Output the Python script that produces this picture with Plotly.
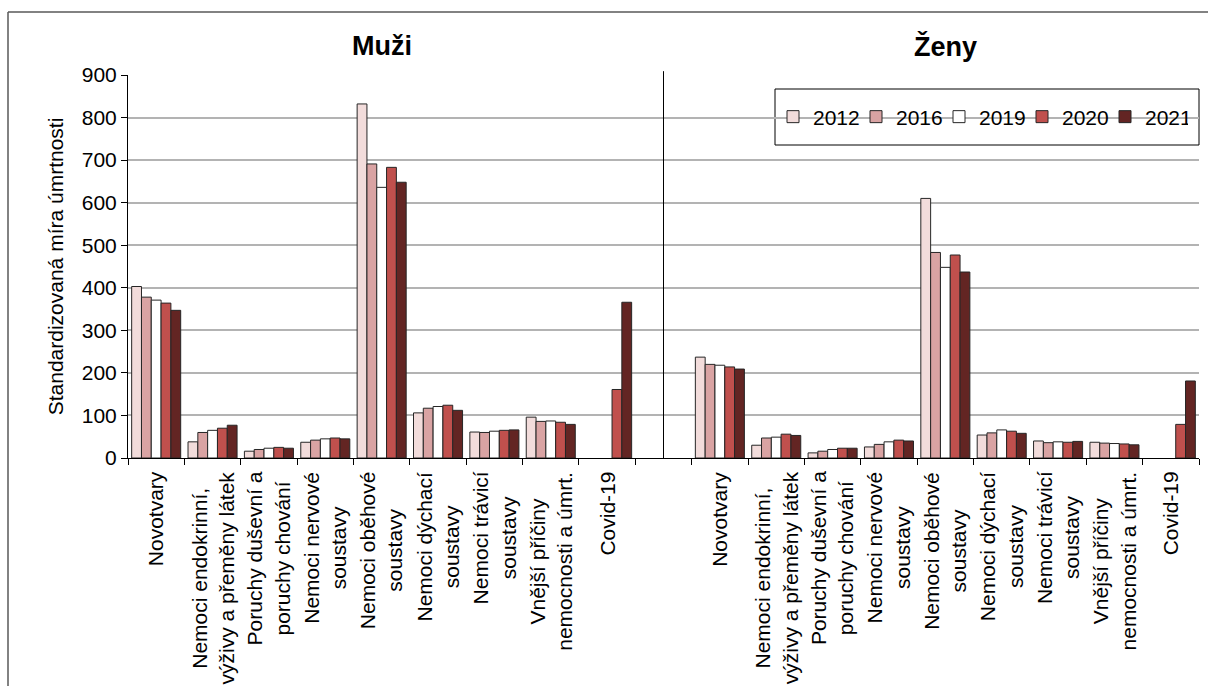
import plotly.graph_objects as go

# Cause-of-death groups (same list for men and women)
causes = [
    "Novotvary",
    "Nemoci endokrinní,<br>výživy a přeměny látek",
    "Poruchy duševní a<br>poruchy chování",
    "Nemoci nervové<br>soustavy",
    "Nemoci oběhové<br>soustavy",
    "Nemoci dýchací<br>soustavy",
    "Nemoci trávicí<br>soustavy",
    "Vnější příčiny<br>nemocnosti a úmrt.",
    "Covid-19",
]

years = ["2012", "2016", "2019", "2020", "2021"]

# Standardised mortality rates – men
men = {
    "2012": [403, 38, 16, 37, 832, 106, 61, 96, None],
    "2016": [378, 60, 20, 42, 691, 117, 60, 86, None],
    "2019": [371, 65, 23, 45, 636, 121, 63, 87, None],
    "2020": [364, 70, 25, 47, 683, 124, 65, 84, 161],
    "2021": [347, 77, 23, 45, 648, 112, 66, 79, 366],
}

# Standardised mortality rates – women
women = {
    "2012": [237, 30, 12, 26, 610, 54, 40, 37, None],
    "2016": [220, 47, 16, 32, 483, 59, 36, 35, None],
    "2019": [218, 49, 20, 38, 448, 66, 38, 34, None],
    "2020": [214, 56, 23, 42, 477, 63, 37, 33, 79],
    "2021": [209, 53, 23, 40, 437, 58, 39, 31, 181],
}

colors = {
    "2012": "#F2DCDB",
    "2016": "#D9A3A3",
    "2019": "#FFFFFF",
    "2020": "#C0504D",
    "2021": "#632523",
}

# Men occupy positions 0-8, an empty slot at 9, women at 10-18
n = len(causes)
x_pos = list(range(2 * n + 1))
labels = causes + [""] + causes

fig = go.Figure()
for yr in years:
    vals = men[yr] + [None] + women[yr]
    fig.add_trace(go.Bar(
        x=x_pos, y=vals, name=yr,
        marker=dict(color=colors[yr], line=dict(color="#262626", width=1)),
    ))

FONT = "Liberation Sans, Arial, sans-serif"

# Category labels, rotated, lines centred
annotations = []
for i, lab in enumerate(labels):
    if not lab:
        continue
    annotations.append(dict(
        x=i, xref="x", y=-0.03, yref="paper",
        text=lab, textangle=-90, showarrow=False,
        xanchor="center", yanchor="top", align="center",
        font=dict(family=FONT, size=21, color="#000000"),
    ))

# Panel titles
for txt, xc in (("Muži", 4), ("Ženy", 14)):
    annotations.append(dict(
        x=xc, xref="x", y=1.075, yref="paper",
        text=f"<b>{txt}</b>", showarrow=False,
        xanchor="center", yanchor="middle",
        font=dict(family=FONT, size=27, color="#000000"),
    ))

L, R, T, B = 128, 9, 75, 228
W, H = 1208, 686
pw, ph = W - L - R, H - T - B


def px(xp):
    return (xp - L) / pw


def py(yp):
    return (H - B - yp) / ph


shapes = [
    # separator between the two panels
    dict(type="line", xref="x", yref="paper", x0=n, x1=n, y0=0, y1=1.01,
         line=dict(color="#000000", width=1)),
    # outer chart frame
    dict(type="line", xref="paper", yref="paper", x0=px(8), x1=px(8), y0=py(12), y1=py(H + 5),
         line=dict(color="#595959", width=1.5)),
    dict(type="line", xref="paper", yref="paper", x0=px(8), x1=px(W + 5), y0=py(12), y1=py(12),
         line=dict(color="#595959", width=1.5)),
    # legend frame
    dict(type="rect", xref="paper", yref="paper", x0=px(775), x1=px(1199), y0=py(145), y1=py(89),
         line=dict(color="#000000", width=1), fillcolor="white", layer="below"),
]

fig.update_layout(
    width=W, height=H,
    margin=dict(l=L, r=R, t=T, b=B, autoexpand=False),
    paper_bgcolor="white", plot_bgcolor="rgba(0,0,0,0)",
    barmode="group", bargap=0.13, bargroupgap=0,
    font=dict(family=FONT, size=21, color="#000000"),
    showlegend=True,
    legend=dict(
        orientation="h", x=px(1188), y=py(117), xanchor="right", yanchor="middle",
        borderwidth=0, bgcolor="rgba(0,0,0,0)",
        font=dict(family=FONT, size=21, color="#000000"),
        entrywidth=38, entrywidthmode="pixels",
        itemwidth=30, traceorder="normal",
    ),
    xaxis=dict(
        range=[-0.5, 2 * n + 0.5],
        tickmode="array", tickvals=[i - 0.5 for i in range(2 * n + 2)],
        showticklabels=False, ticks="outside", ticklen=6, tickcolor="#000000",
        showline=True, linecolor="#000000", linewidth=1,
        showgrid=False, zeroline=False, fixedrange=True,
    ),
    yaxis=dict(
        range=[0, 900], tickmode="linear", tick0=0, dtick=100,
        ticks="outside", ticklen=6, tickcolor="#000000",
        showline=True, linecolor="#000000", linewidth=1,
        showgrid=True, gridcolor="#B3B3B3", gridwidth=1.5,
        zeroline=False,
        tickfont=dict(family=FONT, size=21),
        title=dict(text="Standardizovaná míra úmrtnosti",
                   font=dict(family=FONT, size=21), standoff=12),
    ),
    annotations=annotations,
    shapes=shapes,
)

fig.write_html("out.html")
